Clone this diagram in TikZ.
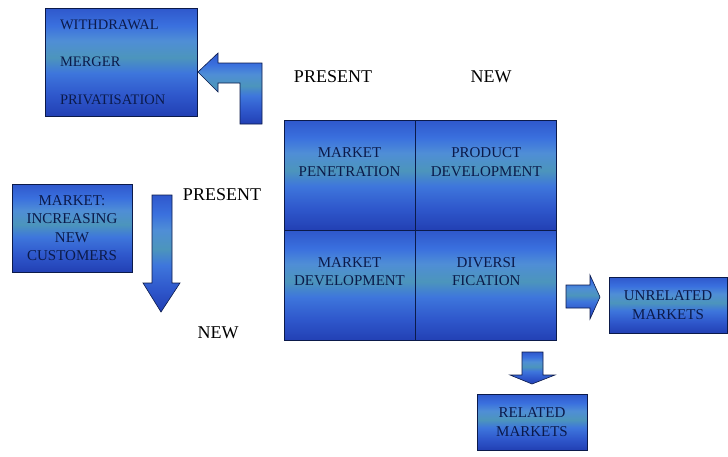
\documentclass[tikz,border=0pt]{standalone}
\usepackage{fontspec}
\setmainfont{Liberation Serif}
\usepackage{tikz}
\usetikzlibrary{positioning}
\definecolor{bdark}{HTML}{2240B4}
\definecolor{bedge}{HTML}{2F58CC}
\definecolor{bmid}{HTML}{3A70DE}
\definecolor{blight}{HTML}{4F8ED6}
\definecolor{bteal}{HTML}{4C95BC}
\definecolor{blow}{HTML}{3E76DC}
\definecolor{ink}{HTML}{0B1A4A}
% the shape is mapped onto 25bp..75bp of the shading
\pgfdeclareverticalshading{bluebar}{100bp}{color(0bp)=(bdark); color(25bp)=(bdark); color(35bp)=(bedge); color(45bp)=(blow); color(52bp)=(bteal); color(60bp)=(blight); color(67bp)=(bmid); color(75bp)=(bedge); color(100bp)=(bedge)}
\tikzset{
  blk/.style={draw=ink,line width=0.8pt,shading=bluebar,font=\fontsize{15}{18.5}\selectfont,text=ink,align=center,inner sep=2pt},
  quad/.style={draw=ink,line width=0.8pt,shading=bluebar,minimum height=110pt},
  qtxt/.style={font=\fontsize{15}{18.5}\selectfont,text=ink,align=center},
  barr/.style={draw=ink,line width=0.6pt,shading=bluebar},
  lab/.style={font=\fontsize{18}{20}\selectfont,text=black},
}
\begin{document}
\begin{tikzpicture}[x=1pt,y=-1pt]
\useasboundingbox (0,0) rectangle (728,456);
% Exit options box
\node[blk,minimum width=152pt,minimum height=108pt,text width=122pt,inner xsep=15pt,align=left,
  font=\fontsize{14.5}{37.5}\selectfont] (exit) at (121,62) {WITHDRAWAL\\MERGER\\PRIVATISATION};
% Bent arrow into exit box
\path[barr] (198,72) -- (218,53) -- (218,63) -- (262,63) -- (262,124) -- (240,124)
  -- (240,83) -- (218,83) -- (218,92) -- cycle;
% Column labels
\node[lab] (colp) at (333,77) {PRESENT};
\node[lab] (coln) at (491,77) {NEW};
% Ansoff matrix
\node[quad,minimum width=131pt] (pen) at (349.5,175) {};
\node[quad,minimum width=141pt,right=0pt of pen] (prod) {};
\node[quad,minimum width=131pt,below=0pt of pen] (mdev) {};
\node[quad,minimum width=141pt,right=0pt of mdev] (div) {};
\node[qtxt] (pent) at ([yshift=13pt]pen.center) {MARKET\\PENETRATION};
\node[qtxt] (prodt) at ([yshift=13pt]prod.center) {PRODUCT\\DEVELOPMENT};
\node[qtxt] (mdevt) at ([yshift=14pt]mdev.center) {MARKET\\DEVELOPMENT};
\node[qtxt] (divt) at ([yshift=14pt]div.center) {DIVERSI\\FICATION};
% Row labels
\node[lab] (rowp) at (222,195) {PRESENT};
\node[lab] (rown) at (218,333) {NEW};
% Market box and down arrow
\node[blk,minimum width=120pt,minimum height=88pt] (mkt) at (72,228) {MARKET:\\INCREASING\\NEW\\CUSTOMERS};
\path[barr] (152,195) -- (172,195) -- (172,283) -- (180,283) -- (161,312) -- (143,283)
  -- (152,283) -- cycle;
% Diversification outcomes
\path[barr] (566,285) -- (590,285) -- (590,275) -- (600,297) -- (590,319) -- (590,308)
  -- (566,308) -- cycle;
\node[blk,minimum width=118pt,minimum height=56pt] (unrel) at (668,305) {UNRELATED\\MARKETS};
\path[barr] (522,352) -- (543,352) -- (543,375) -- (555,375) -- (532,384) -- (510,375)
  -- (522,375) -- cycle;
\node[blk,minimum width=110pt,minimum height=56pt] (rel) at (532,422) {RELATED\\MARKETS};
\end{tikzpicture}
\end{document}
